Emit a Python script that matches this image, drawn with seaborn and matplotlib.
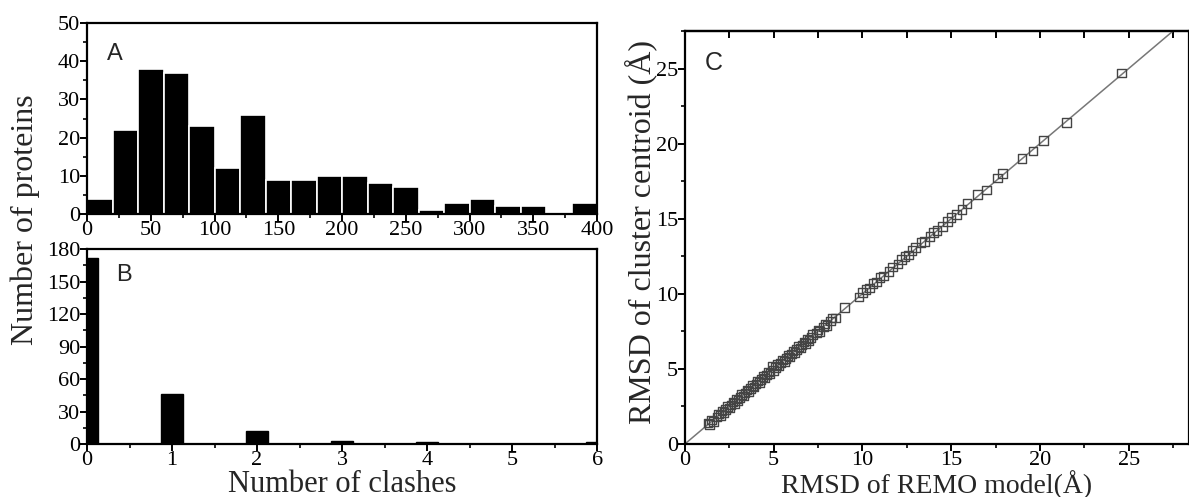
import matplotlib

matplotlib.use('Agg')
import matplotlib.pyplot as plt
from matplotlib.ticker import MultipleLocator
import numpy as np
import pandas as pd
import seaborn as sns

# panel A: histogram of clash score, 20-wide bins
clash_bin_left = [0, 20, 40, 60, 80, 100, 120, 140, 160, 180,
                  200, 220, 240, 260, 280, 300, 320, 340, 360, 380]
clash_bin_count = [4, 22, 38, 37, 23, 12, 26, 9, 9, 10,
                   10, 8, 7, 1, 3, 4, 2, 2, 0, 3]

# panel B: number of clashes
n_clashes = [0, 1, 2, 3, 4, 6]
n_clash_count = [172, 46, 12, 3, 2, 2]

# panel C: RMSD of REMO model vs cluster centroid
rmsd_model = [1.3, 1.4, 1.5, 1.6, 1.8, 1.9, 2.0, 2.1, 2.2, 2.3, 2.4, 2.5, 2.6, 2.7,
              2.8, 2.9, 3.0, 3.1, 3.2, 3.3, 3.4, 3.5, 3.6, 3.7, 3.8, 3.9, 4.0, 4.1,
              4.2, 4.3, 4.4, 4.5, 4.6, 4.7, 4.8, 4.9, 5.0, 5.1, 5.2, 5.3, 5.4, 5.5,
              5.6, 5.7, 5.8, 5.9, 6.0, 6.1, 6.2, 6.3, 6.4, 6.5, 6.6, 6.7, 6.8, 6.9,
              7.0, 7.1, 7.2, 7.4, 7.5, 7.6, 7.8, 7.9, 8.0, 8.2, 8.3, 8.5, 9.0, 9.8,
              10.0, 10.2, 10.4, 10.6, 10.8, 11.0, 11.2, 11.5, 11.7, 12.0, 12.2, 12.4,
              12.6, 12.8, 13.0, 13.3, 13.5, 13.8, 14.0, 14.2, 14.5, 14.8, 15.0, 15.3,
              15.6, 15.9, 16.5, 17.0, 17.6, 17.9, 19.0, 19.6, 20.2, 21.5, 24.6]
rmsd_centroid = [1.4, 1.3, 1.6, 1.5, 1.8, 2.0, 1.9, 2.2, 2.1, 2.3, 2.5, 2.4, 2.6, 2.8,
                 2.7, 3.0, 2.9, 3.1, 3.3, 3.2, 3.4, 3.6, 3.5, 3.7, 3.9, 3.8, 4.0, 4.2,
                 4.1, 4.3, 4.5, 4.4, 4.6, 4.8, 4.7, 5.2, 4.9, 5.1, 5.3, 5.2, 5.4, 5.6,
                 5.5, 5.7, 5.9, 5.8, 6.0, 6.2, 6.1, 6.3, 6.5, 6.4, 6.6, 6.8, 6.7, 7.0,
                 6.9, 7.1, 7.3, 7.4, 7.6, 7.5, 7.8, 8.0, 7.9, 8.2, 8.4, 8.4, 9.1, 9.8,
                 10.1, 10.3, 10.4, 10.7, 10.8, 11.1, 11.2, 11.5, 11.8, 12.0, 12.3, 12.5,
                 12.6, 12.9, 13.1, 13.4, 13.5, 13.8, 14.1, 14.2, 14.5, 14.8, 15.1, 15.3,
                 15.6, 16.0, 16.6, 16.9, 17.7, 18.0, 19.0, 19.5, 20.2, 21.4, 24.7]

sns.set_style("ticks")
plt.rcParams['font.family'] = ['Liberation Serif', 'DejaVu Serif']
plt.rcParams['axes.linewidth'] = 1.6
plt.rcParams['xtick.major.width'] = 1.4
plt.rcParams['ytick.major.width'] = 1.4
plt.rcParams['xtick.minor.width'] = 1.2
plt.rcParams['ytick.minor.width'] = 1.2
plt.rcParams['xtick.major.size'] = 5
plt.rcParams['ytick.major.size'] = 5
plt.rcParams['xtick.minor.size'] = 3
plt.rcParams['ytick.minor.size'] = 3
plt.rcParams['xtick.color'] = 'black'
plt.rcParams['ytick.color'] = 'black'
plt.rcParams['axes.edgecolor'] = 'black'

fig = plt.figure(figsize=(11.89, 4.97), dpi=100)
ax_a = fig.add_axes([0.0732, 0.5694, 0.429, 0.3843])
ax_b = fig.add_axes([0.0732, 0.1066, 0.429, 0.3924])
ax_c = fig.add_axes([0.576, 0.1066, 0.424, 0.831])

# A
df_a = pd.DataFrame({'clash': np.array(clash_bin_left) + 10, 'count': clash_bin_count})
sns.histplot(data=df_a, x='clash', weights='count', binwidth=20, binrange=(0, 400),
             color='black', edgecolor='white', linewidth=1.2, alpha=1, ax=ax_a)
ax_a.set_xlim(0, 400)
ax_a.set_ylim(0, 50)
ax_a.xaxis.set_major_locator(MultipleLocator(50))
ax_a.xaxis.set_minor_locator(MultipleLocator(25))
ax_a.yaxis.set_major_locator(MultipleLocator(10))
ax_a.yaxis.set_minor_locator(MultipleLocator(5))
ax_a.set_xlabel('')
ax_a.set_ylabel('')
ax_a.tick_params(labelsize=16, pad=0)
ax_a.text(0.04, 0.84, 'A', transform=ax_a.transAxes, fontsize=17,
          family=['Liberation Sans'], va='center')

# B
df_b = pd.DataFrame({'n': n_clashes, 'count': n_clash_count})
sns.histplot(data=df_b, x='n', weights='count', discrete=True, shrink=0.26,
             color='black', edgecolor='black', alpha=1, ax=ax_b)
ax_b.set_xlim(0, 6)
ax_b.set_ylim(0, 180)
ax_b.xaxis.set_major_locator(MultipleLocator(1))
ax_b.xaxis.set_minor_locator(MultipleLocator(0.5))
ax_b.yaxis.set_major_locator(MultipleLocator(30))
ax_b.yaxis.set_minor_locator(MultipleLocator(15))
ax_b.set_ylabel('')
ax_b.set_xlabel('Number of clashes', fontsize=22, labelpad=0)
ax_b.tick_params(labelsize=16, pad=0)
ax_b.text(0.058, 0.865, 'B', transform=ax_b.transAxes, fontsize=17,
          family=['Liberation Sans'], va='center')

fig.text(0.021, 0.557, 'Number of proteins', rotation=90, fontsize=23,
         ha='center', va='center')

# C
ax_c.axline((0, 0), slope=1, color='#777777', linewidth=1.1, zorder=1)
sns.scatterplot(x=rmsd_model, y=rmsd_centroid, marker='s', s=38,
                facecolor='none', edgecolor='#444444', linewidth=1.0,
                ax=ax_c, zorder=2)
ax_c.set_xlim(0, 28.4)
ax_c.set_ylim(0, 27.5)
ax_c.xaxis.set_major_locator(MultipleLocator(5))
ax_c.xaxis.set_minor_locator(MultipleLocator(2.5))
ax_c.yaxis.set_major_locator(MultipleLocator(5))
ax_c.yaxis.set_minor_locator(MultipleLocator(2.5))
ax_c.tick_params(labelsize=16, pad=0)
ax_c.set_xlabel('RMSD of REMO model(Å)', fontsize=20, labelpad=0)
ax_c.set_ylabel('')
fig.text(0.539, 0.533, 'RMSD of cluster centroid (Å)', rotation=90, fontsize=23,
         ha='center', va='center')
top = ax_c.secondary_xaxis('top')
top.xaxis.set_major_locator(MultipleLocator(5))
top.xaxis.set_minor_locator(MultipleLocator(2.5))
top.tick_params(axis='x', which='both', direction='in', labeltop=False)
top.tick_params(axis='x', which='minor', length=5, width=1.4)
ax_c.text(0.04, 0.922, 'C', transform=ax_c.transAxes, fontsize=18,
          family=['Liberation Sans'], va='center')

fig.savefig('out.png', dpi=100)
